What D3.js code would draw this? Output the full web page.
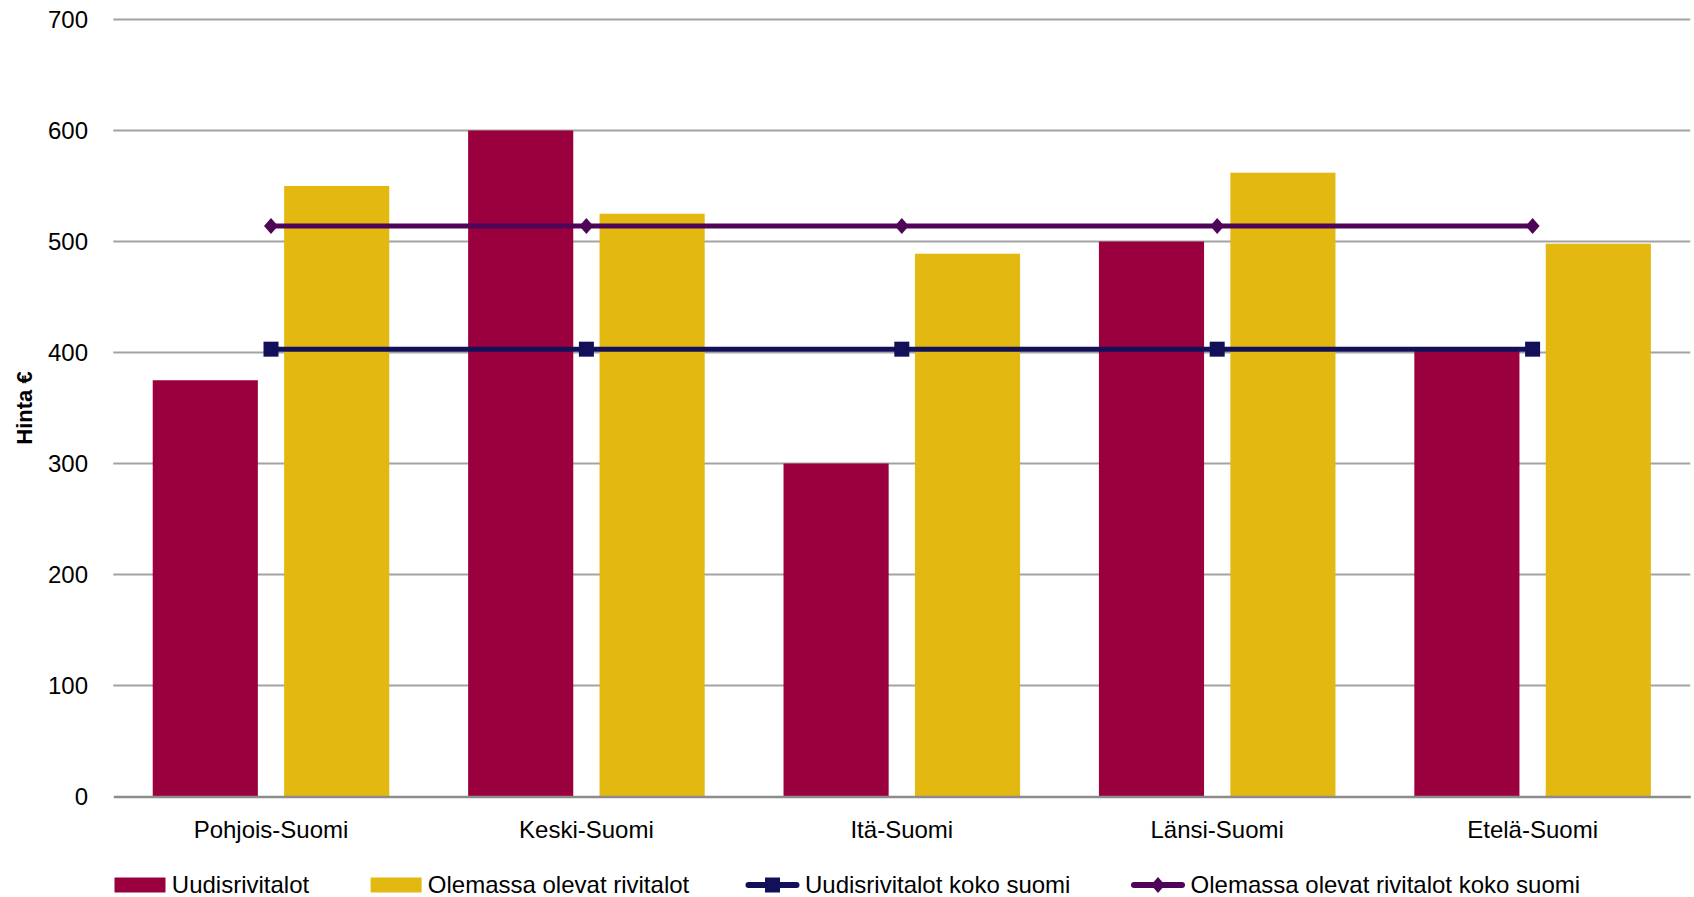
<!DOCTYPE html>
<html>
<head>
<meta charset="utf-8">
<script src="https://cdn.jsdelivr.net/npm/d3@7"></script>
<style>
  html, body { margin: 0; padding: 0; background: #fff; }
  svg { display: block; font-family: "Liberation Sans", Arial, sans-serif; }
</style>
</head>
<body>
<svg id="chart" width="1694" height="897"></svg>
<script>
const categories = ["Pohjois-Suomi", "Keski-Suomi", "Itä-Suomi", "Länsi-Suomi", "Etelä-Suomi"];
const barSeriesNames = ["Uudisrivitalot", "Olemassa olevat rivitalot"];
const uudisValues = [375, 600, 300, 500, 402];
const olemassaValues = [550, 525, 489, 562, 498];
const lineSeriesNames = ["Uudisrivitalot koko suomi", "Olemassa olevat rivitalot koko suomi"];
const uudisKokoValues = [403, 403, 403, 403, 403];
const olemassaKokoValues = [514, 514, 514, 514, 514];
const yTicks = [0, 100, 200, 300, 400, 500, 600, 700];
const yTitle = "Hinta €";

const barColors = ["#9B003E", "#E2B811"];
const lineColors = ["#13105A", "#4F0557"];

(function () {
const svg = d3.select("#chart");
const pLeft = 113.3, pRight = 1690.3, pTop = 19.5, pBottom = 796.5;

const x = d3.scaleBand().domain(categories).range([pLeft, pRight]).padding(0);
const x1 = d3.scaleBand().domain([0, 1]).range([0, x.bandwidth()]).paddingInner(0.2).paddingOuter(0.3);
const y = d3.scaleLinear().domain([0, 700]).range([pBottom, pTop]);

// gridlines
svg.append("g").selectAll("line").data(yTicks.filter(d => d > 0)).join("line")
  .attr("x1", pLeft).attr("x2", pRight)
  .attr("y1", d => y(d)).attr("y2", d => y(d))
  .attr("stroke", "#a3a3a3").attr("stroke-width", 2);

// y axis labels
const yAxis = d3.axisLeft(y).tickValues(yTicks).tickSize(0).tickPadding(0);
const yg = svg.append("g").attr("transform", `translate(${88},0)`).call(yAxis);
yg.select(".domain").remove();
yg.selectAll("text").attr("font-size", 24).attr("fill", "#000")
  .attr("font-family", "'Liberation Sans', Arial, sans-serif");

// y title
svg.append("text")
  .attr("transform", `translate(24,${(pTop + pBottom) / 2}) rotate(-90)`)
  .attr("text-anchor", "middle")
  .attr("font-size", 22).attr("font-weight", "bold").attr("fill", "#000")
  .attr("dominant-baseline", "central")
  .text(yTitle);

// bars
const barData = categories.map((c, i) => ({ c, vals: [uudisValues[i], olemassaValues[i]] }));
const groups = svg.append("g").selectAll("g").data(barData).join("g")
  .attr("transform", d => `translate(${x(d.c)},0)`);
groups.selectAll("rect").data(d => d.vals.map((v, k) => ({ v, k }))).join("rect")
  .attr("x", d => x1(d.k))
  .attr("width", x1.bandwidth())
  .attr("y", d => y(d.v))
  .attr("height", d => y(0) - y(d.v))
  .attr("fill", d => barColors[d.k]);

// baseline axis
const xAxis = d3.axisBottom(x).tickSize(0).tickPadding(0);
const xg = svg.append("g").attr("transform", `translate(0,${pBottom})`).call(xAxis);
xg.select(".domain").attr("stroke", "#8c8c8c").attr("stroke-width", 2.5);
xg.selectAll("text").attr("font-size", 24).attr("fill", "#000")
  .attr("font-family", "'Liberation Sans', Arial, sans-serif")
  .attr("dy", null).attr("y", 33).attr("dominant-baseline", "central");

// lines
const cx = c => x(c) + x.bandwidth() / 2;
const lineGen = d3.line().x(d => cx(d.c)).y(d => y(d.v));
const lineSets = [uudisKokoValues, olemassaKokoValues].map(vals => categories.map((c, i) => ({ c, v: vals[i] })));

lineSets.forEach((pts, k) => {
  svg.append("path").datum(pts).attr("d", lineGen)
    .attr("fill", "none").attr("stroke", lineColors[k]).attr("stroke-width", 5);
});
// markers
const diamondType = {
  draw(ctx, size) {
    const w = 7, h = 8;
    ctx.moveTo(0, -h); ctx.lineTo(w, 0); ctx.lineTo(0, h); ctx.lineTo(-w, 0); ctx.closePath();
  }
};
const sq = d3.symbol().type(d3.symbolSquare).size(225);
const dia = d3.symbol().type(diamondType).size(100);
svg.append("g").selectAll("path").data(lineSets[0]).join("path")
  .attr("d", sq).attr("transform", d => `translate(${cx(d.c)},${y(d.v)})`)
  .attr("fill", lineColors[0]);
svg.append("g").selectAll("path").data(lineSets[1]).join("path")
  .attr("d", dia).attr("transform", d => `translate(${cx(d.c)},${y(d.v)})`)
  .attr("fill", lineColors[1]);

// legend
const legY = 884;
const leg = svg.append("g").attr("font-size", 24).attr("fill", "#000");
const legItems = [
  { type: "bar", name: barSeriesNames[0], color: barColors[0], x0: 114.5, tx: 171.8 },
  { type: "bar", name: barSeriesNames[1], color: barColors[1], x0: 370.6, tx: 427.8 },
  { type: "sq", name: lineSeriesNames[0], color: lineColors[0], x0: 745.5, tx: 805 },
  { type: "dia", name: lineSeriesNames[1], color: lineColors[1], x0: 1131, tx: 1190.6 }
];
legItems.forEach(it => {
  if (it.type === "bar") {
    leg.append("rect").attr("x", it.x0).attr("y", legY - 6.5).attr("width", 51).attr("height", 15).attr("fill", it.color);
  } else {
    leg.append("line").attr("x1", it.x0 + 3).attr("x2", it.x0 + 51)
      .attr("y1", legY + 1).attr("y2", legY + 1)
      .attr("stroke", it.color).attr("stroke-width", 6).attr("stroke-linecap", "round");
    leg.append("path").attr("d", it.type === "sq" ? sq : dia)
      .attr("transform", `translate(${it.x0 + 27},${legY + 1})`).attr("fill", it.color);
  }
  leg.append("text").attr("x", it.tx).attr("y", legY).attr("dominant-baseline", "central").text(it.name);
});
})();
</script>
</body>
</html>
